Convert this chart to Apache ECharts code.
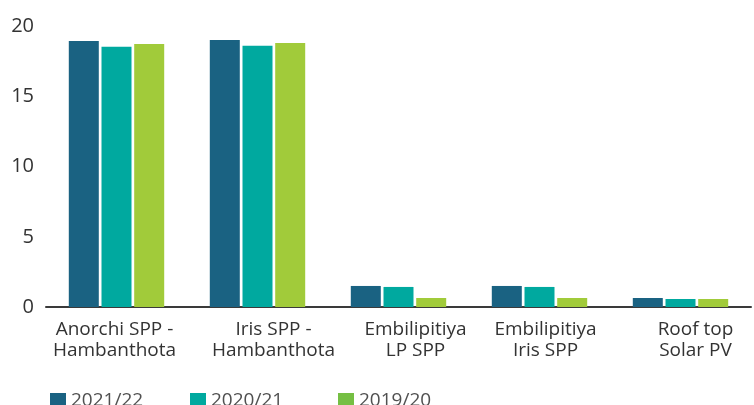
<!DOCTYPE html>
<html>
<head>
<meta charset="utf-8">
<script src="https://cdn.jsdelivr.net/npm/echarts@6/dist/echarts.min.js"></script>
<style>
  html, body { margin: 0; padding: 0; background: #fff; }
  #chart { width: 754px; height: 405px; }
</style>
</head>
<body>
<div id="chart"></div>
<script>
  // 数据
  const categories = [
    'Anorchi SPP -\nHambanthota',
    'Iris SPP -\nHambanthota',
    'Embilipitiya\nLP SPP',
    'Embilipitiya\nIris SPP',
    'Roof top\nSolar PV'
  ]
  const seriesNames = ['2021/22', '2020/21', '2019/20']
  const values2122 = [18.96, 19.03, 1.50, 1.50, 0.64]
  const values2021 = [18.55, 18.62, 1.43, 1.43, 0.57]
  const values1920 = [18.75, 18.82, 0.64, 0.64, 0.57]
  const yTicks = [0, 5, 10, 15, 20]

  const barColors = ['#1a6282', '#00a99f', '#a1cb3a']
  const legendColors = ['#1a6282', '#00a99f', '#75bf43']
  // 标签水平微调 (px)
  const labelShift = [-2, 16, 17, 6, 15]

  const font = 'Open Sans'
  const textColor = '#333333'

  const mChart = echarts.init(document.getElementById('chart'))

  const rich = {}
  labelShift.forEach((s, i) => {
    rich['s' + i] = {
      fontFamily: font,
      fontSize: 19,
      color: textColor,
      lineHeight: 21,
      padding: s >= 0 ? [0, 0, 0, 2 * s] : [0, -2 * s, 0, 0]
    }
  })

  const legendLefts = [50, 190, 338]

  const options = {
    animation: false,
    textStyle: { fontFamily: font },
    grid: { left: 46, right: 3, top: 26.5, bottom: 98, containLabel: false },
    legend: seriesNames.map((name, i) => ({
      left: legendLefts[i],
      top: 391,
      padding: 0,
      itemWidth: 16,
      itemHeight: 16,
      itemGap: 0,
      icon: 'rect',
      selectedMode: false,
      data: [{ name: name, itemStyle: { color: legendColors[i] } }],
      textStyle: { fontFamily: font, fontSize: 19, color: '#505050', lineHeight: 20 }
    })),
    xAxis: {
      type: 'category',
      data: categories,
      axisLine: { show: true, lineStyle: { color: '#3a3a3a', width: 2 } },
      axisTick: { show: false },
      axisLabel: {
        interval: 0,
        margin: 12,
        formatter: (value, index) => value.split('\n').map(l => '{s' + index + '|' + l + '}').join('\n'),
        rich: rich
      }
    },
    yAxis: {
      type: 'value',
      min: 0,
      max: 20,
      interval: 5,
      axisLine: { show: false },
      axisTick: { show: false },
      splitLine: { show: false },
      axisLabel: {
        margin: 12,
        fontFamily: font,
        fontSize: 20,
        color: textColor,
        formatter: v => (yTicks.includes(v) ? String(v) : '')
      }
    },
    series: [values2122, values2021, values1920].map((vals, i) => ({
      name: seriesNames[i],
      type: 'bar',
      data: vals,
      barWidth: 30,
      barGap: '9%',
      itemStyle: { color: barColors[i] }
    }))
  }

  mChart.setOption(options)
</script>
</body>
</html>
